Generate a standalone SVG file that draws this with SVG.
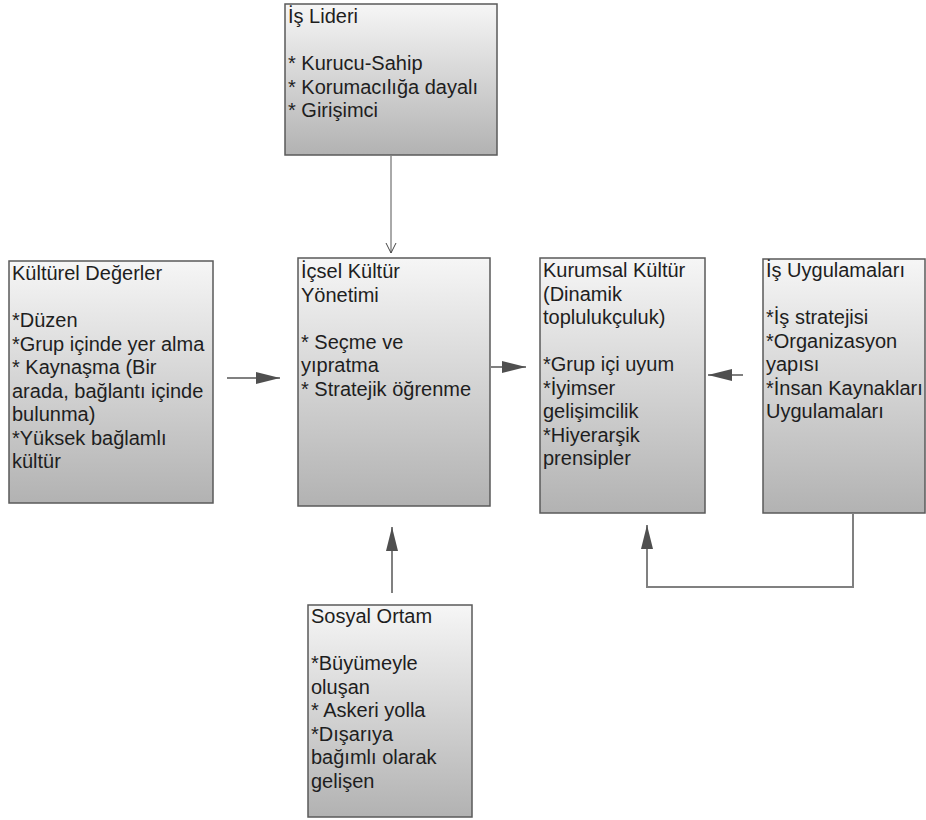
<svg xmlns="http://www.w3.org/2000/svg" width="926" height="820" viewBox="0 0 926 820">
<defs>
<linearGradient id="g" x1="0" y1="0" x2="0" y2="1">
<stop offset="0" stop-color="#f6f6f6"/>
<stop offset="1" stop-color="#b2b2b2"/>
</linearGradient>
<marker id="ah" markerUnits="userSpaceOnUse" markerWidth="24" markerHeight="12" refX="24" refY="6" orient="auto">
<path d="M0,0 L24,6 L0,12 Z" fill="#4f4f4f"/>
</marker>
<marker id="av" markerUnits="userSpaceOnUse" markerWidth="12" markerHeight="12" refX="10" refY="6" orient="auto">
<path d="M0,1 L10,6 L0,11" fill="none" stroke="#444" stroke-width="1"/>
</marker>
</defs>
<style>
.box{fill:url(#g);stroke:#5a5a5a;stroke-width:1.5}
text{font-family:"Liberation Sans",Arial,sans-serif;font-size:20px;fill:#1e1e1e}
.c{fill:none;stroke:#808080;stroke-width:2}
.t{fill:none;stroke:#555;stroke-width:1}
</style>
<rect width="926" height="820" fill="#fff"/>
<g id="connectors">
<line class="t" x1="391" y1="156" x2="391" y2="253" marker-end="url(#av)"/>
<line class="c" x1="227" y1="378" x2="280" y2="378" marker-end="url(#ah)"/>
<line class="c" x1="491" y1="367" x2="526" y2="367" marker-end="url(#ah)"/>
<line class="c" x1="743" y1="375" x2="708" y2="375" marker-end="url(#ah)"/>
<line class="c" x1="392" y1="593" x2="392" y2="527" marker-end="url(#ah)"/>
<polyline class="c" points="853,514 853,587 647,587 647,525" marker-end="url(#ah)"/>
</g>
<g id="is-lideri">
<rect class="box" x="285" y="4" width="212" height="151"/>
<text x="288" y="23">İş Lideri</text>
<text x="288" y="70">* Kurucu-Sahip</text>
<text x="288" y="93.5">* Korumacılığa dayalı</text>
<text x="288" y="117">* Girişimci</text>
</g>
<g id="kulturel-degerler">
<rect class="box" x="9" y="261" width="204" height="242"/>
<text x="12" y="280">Kültürel Değerler</text>
<text x="12" y="327">*Düzen</text>
<text x="12" y="350.5">*Grup içinde yer alma</text>
<text x="12" y="374">* Kaynaşma (Bir</text>
<text x="12" y="397.5">arada, bağlantı içinde</text>
<text x="12" y="421">bulunma)</text>
<text x="12" y="444.5">*Yüksek bağlamlı</text>
<text x="12" y="468">kültür</text>
</g>
<g id="icsel-kultur">
<rect class="box" x="298" y="258" width="192" height="248"/>
<text x="301" y="278">İçsel Kültür</text>
<text x="301" y="301.5">Yönetimi</text>
<text x="301" y="348.5">* Seçme ve</text>
<text x="301" y="372">yıpratma</text>
<text x="301" y="395.5">* Stratejik öğrenme</text>
</g>
<g id="kurumsal-kultur">
<rect class="box" x="540" y="258" width="165" height="255"/>
<text x="543" y="277">Kurumsal Kültür</text>
<text x="543" y="300.5">(Dinamik</text>
<text x="543" y="324">toplulukçuluk)</text>
<text x="543" y="371">*Grup içi uyum</text>
<text x="543" y="394.5">*İyimser</text>
<text x="543" y="418">gelişimcilik</text>
<text x="543" y="441.5">*Hiyerarşik</text>
<text x="543" y="465">prensipler</text>
</g>
<g id="is-uygulamalari">
<rect class="box" x="763" y="259" width="162" height="254"/>
<text x="766" y="277">İş Uygulamaları</text>
<text x="766" y="324">*İş stratejisi</text>
<text x="766" y="347.5">*Organizasyon</text>
<text x="766" y="371">yapısı</text>
<text x="766" y="394.5">*İnsan Kaynakları</text>
<text x="766" y="418">Uygulamaları</text>
</g>
<g id="sosyal-ortam">
<rect class="box" x="308" y="605" width="164" height="212"/>
<text x="311" y="623">Sosyal Ortam</text>
<text x="311" y="670">*Büyümeyle</text>
<text x="311" y="693.5">oluşan</text>
<text x="311" y="717">* Askeri yolla</text>
<text x="311" y="740.5">*Dışarıya</text>
<text x="311" y="764">bağımlı olarak</text>
<text x="311" y="787.5">gelişen</text>
</g>
</svg>
